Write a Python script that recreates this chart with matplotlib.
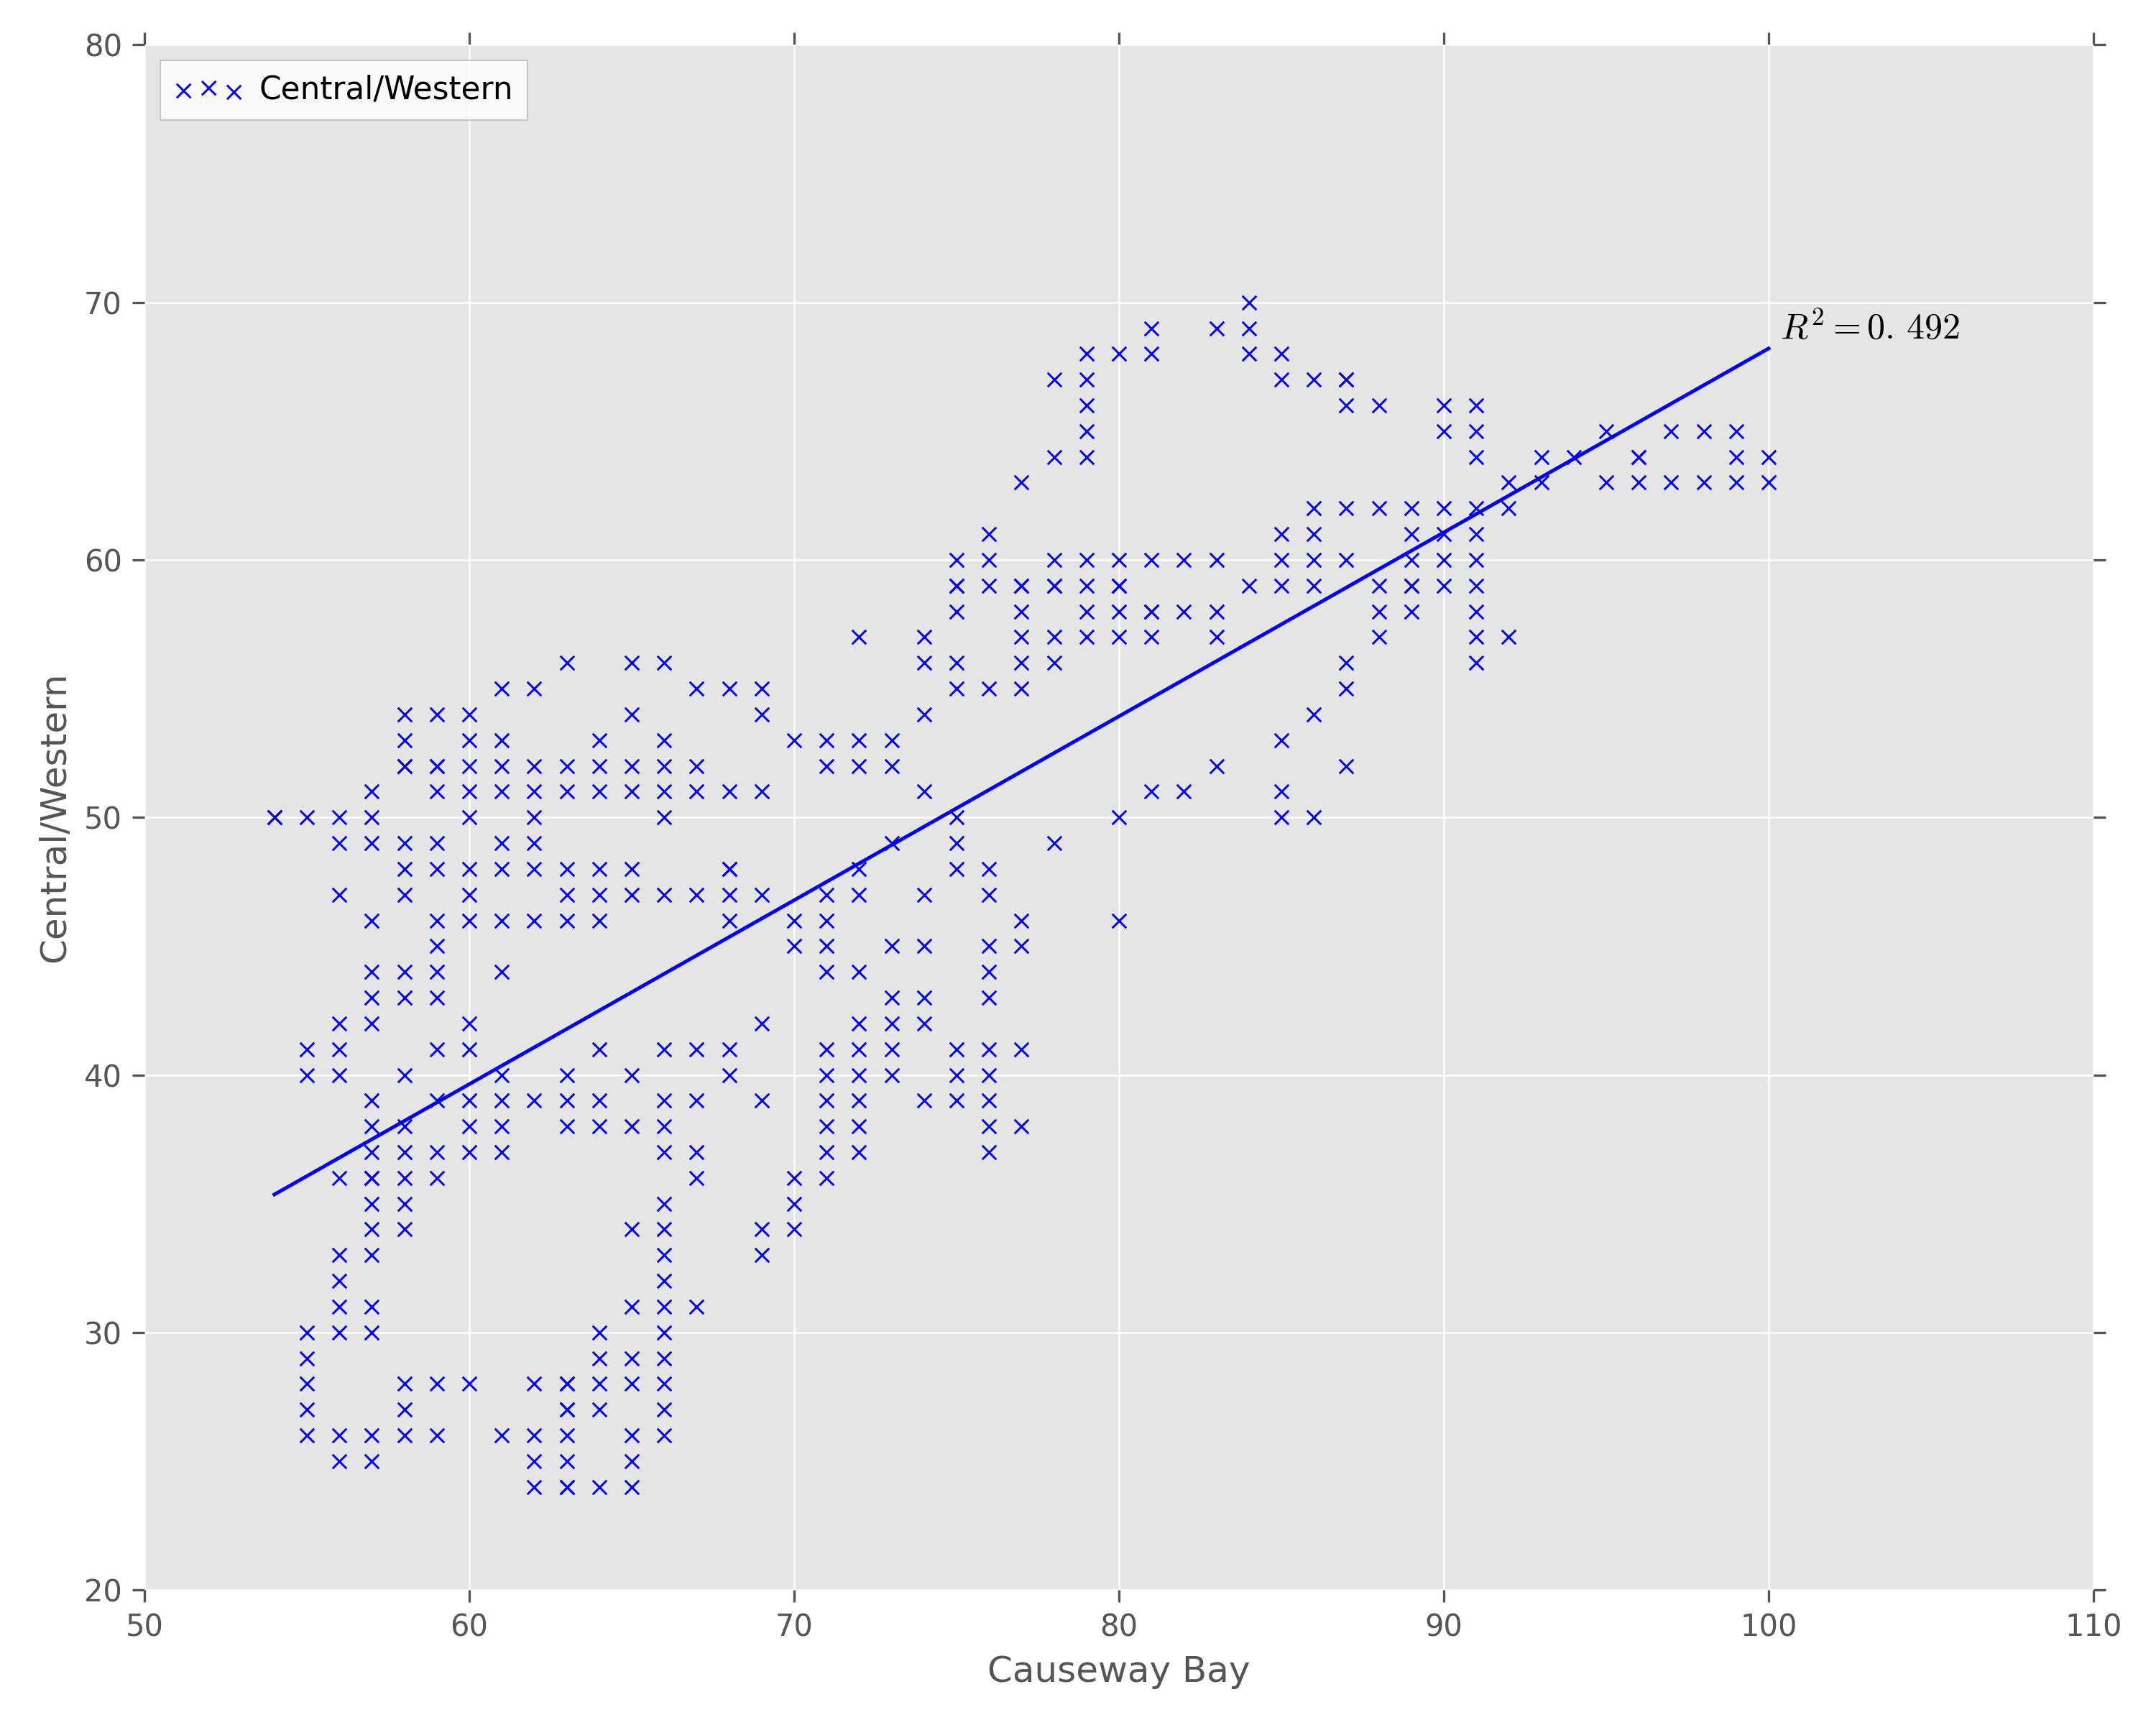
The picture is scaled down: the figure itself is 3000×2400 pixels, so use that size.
import numpy as np
import matplotlib
matplotlib.use("Agg")
import matplotlib.pyplot as plt

# Causeway Bay values (x) and the Central/Western values observed at each
causeway_bay = [54, 55, 56, 57, 58, 59, 60, 61, 62, 63, 64, 65, 66, 67, 68, 69,
                70, 71, 72, 73, 74, 75, 76, 77, 78, 79, 80, 81, 82, 83, 84, 85,
                86, 87, 88, 89, 90, 91, 92, 93, 94, 95, 96, 97, 98, 99, 100]
central_western = [
    [50, 50],
    [50, 41, 40, 30, 29, 28, 27, 26],
    [50, 49, 47, 42, 41, 40, 36, 33, 32, 31, 30, 26, 25],
    [51, 50, 49, 46, 44, 43, 42, 39, 38, 37, 36, 36, 35, 34, 33, 31, 30, 26, 25],
    [54, 53, 52, 52, 49, 48, 47, 44, 43, 40, 38, 37, 36, 35, 34, 28, 27, 26],
    [54, 52, 52, 51, 49, 48, 46, 45, 44, 43, 41, 39, 37, 36, 28, 26],
    [54, 53, 52, 51, 50, 48, 47, 46, 42, 41, 39, 38, 37, 28],
    [55, 53, 52, 51, 49, 48, 46, 44, 40, 39, 38, 37, 26],
    [55, 52, 51, 50, 49, 48, 46, 39, 28, 26, 25, 24],
    [56, 52, 51, 48, 47, 46, 40, 39, 38, 28, 28, 27, 27, 26, 25, 24, 24],
    [53, 52, 51, 48, 47, 46, 41, 39, 38, 30, 29, 28, 27, 24],
    [56, 54, 52, 51, 48, 47, 40, 38, 34, 31, 29, 28, 26, 25, 24],
    [56, 53, 52, 51, 50, 47, 41, 39, 38, 37, 35, 34, 33, 32, 31, 30, 29, 28, 27, 26],
    [55, 52, 51, 47, 41, 39, 37, 36, 31],
    [55, 51, 48, 48, 47, 46, 41, 40],
    [55, 54, 51, 47, 42, 39, 34, 33],
    [53, 46, 45, 36, 35, 34],
    [53, 52, 47, 46, 45, 44, 41, 40, 39, 38, 37, 36],
    [57, 53, 52, 48, 47, 44, 42, 41, 40, 39, 38, 37],
    [53, 52, 49, 45, 43, 42, 41, 40],
    [57, 56, 54, 51, 47, 45, 43, 42, 39],
    [60, 59, 59, 58, 56, 55, 50, 49, 48, 41, 40, 39],
    [61, 60, 59, 55, 48, 47, 45, 44, 43, 41, 40, 39, 38, 37],
    [63, 59, 59, 58, 57, 56, 55, 46, 45, 41, 38],
    [67, 64, 60, 59, 59, 57, 56, 49],
    [68, 67, 66, 65, 64, 60, 59, 58, 57],
    [68, 60, 59, 59, 58, 57, 50, 46],
    [69, 68, 60, 58, 58, 57, 51],
    [60, 58, 51],
    [69, 60, 58, 57, 52],
    [70, 69, 68, 59],
    [68, 67, 61, 60, 59, 53, 51, 50],
    [67, 62, 61, 60, 59, 54, 50],
    [67, 67, 66, 62, 60, 56, 55, 52],
    [66, 62, 59, 58, 57],
    [62, 61, 60, 59, 59, 58],
    [66, 65, 62, 61, 60, 59],
    [66, 65, 64, 62, 61, 60, 59, 58, 57, 56],
    [63, 62, 57],
    [64, 63],
    [64],
    [65, 63],
    [64, 64, 63],
    [65, 63],
    [65, 63],
    [65, 64, 63],
    [64, 63],
]
x_label = "Causeway Bay"
y_label = "Central/Western"
x_ticks = [50, 60, 70, 80, 90, 100, 110]
y_ticks = [20, 30, 40, 50, 60, 70, 80]

x = np.array([cb for cb, ys in zip(causeway_bay, central_western) for _ in ys], dtype=float)
y = np.array([v for ys in central_western for v in ys], dtype=float)

grey = "#555555"
plt.rcParams["mathtext.fontset"] = "cm"

fig = plt.figure(figsize=(10, 8), dpi=300)
ax = fig.add_axes([0.067, 0.0783, 0.904, 0.8957])
ax.set_facecolor("#E5E5E5")
for s in ax.spines.values():
    s.set_visible(False)
ax.set_axisbelow(True)
ax.grid(True, color="white", linewidth=0.6)

ax.scatter(x, y, marker="x", color="b", s=22, linewidths=0.7, label=y_label, zorder=3)

slope, intercept = np.polyfit(x, y, 1)
xs = np.array([x.min(), x.max()])
ax.plot(xs, slope * xs + intercept, color="b", linewidth=1.2, zorder=4)
ax.text(x.max() + 0.35, slope * x.max() + intercept + 0.1, r"$R^2 = 0.\,492$",
        fontsize=12, ha="left", va="bottom", color="black")

ax.set_xlim(50, 110)
ax.set_ylim(20, 80)
ax.set_xticks(x_ticks)
ax.set_yticks(y_ticks)
ax.tick_params(axis="both", which="major", direction="out", length=4, width=0.8,
               colors=grey, labelsize=10, top=True, right=True)
ax.set_xlabel(x_label, fontsize=12, color=grey)
ax.set_ylabel(y_label, fontsize=12, color=grey)

leg = ax.legend(loc="upper left", scatterpoints=3, scatteryoffsets=[0.375, 0.5, 0.3125],
                fontsize=10.5, frameon=True, fancybox=False, borderpad=0.45,
                handlelength=2.2, handletextpad=0.5, borderaxespad=0.5)
leg.get_frame().set_facecolor("white")
leg.get_frame().set_edgecolor("#BBBBBB")
leg.get_frame().set_linewidth(0.5)

fig.savefig("out.png", dpi=300)
